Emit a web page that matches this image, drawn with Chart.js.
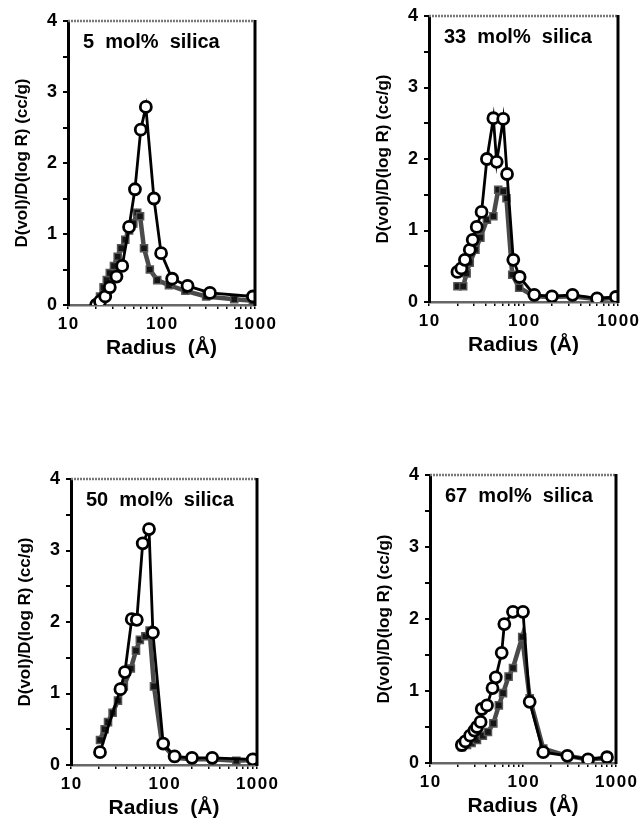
<!DOCTYPE html>
<html>
<head>
<meta charset="utf-8">
<script src="https://cdn.jsdelivr.net/npm/chart.js@4.4.1/dist/chart.umd.min.js"></script>
<style>
  html, body { margin: 0; padding: 0; background: #fff; }
  body { width: 643px; height: 828px; position: relative; overflow: hidden; }
  canvas { position: absolute; }
</style>
</head>
<body>
<script>
// ---------- data ----------
const panelTitles = ["5  mol%  silica", "33  mol%  silica", "50  mol%  silica", "67  mol%  silica"];
const xTickLabels = [10, 100, 1000];
const yTickLabels = [0, 1, 2, 3, 4];
const yAxisTitle = "D(vol)/D(log R) (cc/g)";
const xAxisTitle = "Radius  (Å)";

// Panel 1: 5 mol% silica
const p1CircleR = [20, 22, 25, 28, 33, 38, 45, 52, 60, 68, 83, 99, 130, 190, 330, 950];
const p1CircleV = [0.0, 0.05, 0.12, 0.25, 0.4, 0.55, 1.1, 1.63, 2.47, 2.79, 1.5, 0.73, 0.37, 0.27, 0.17, 0.12];
const p1SquareR = [20, 22, 24, 26, 28, 31, 34, 37, 41, 45, 50, 55, 59, 65, 75, 90, 120, 180, 300, 600, 950];
const p1SquareV = [0.02, 0.12, 0.25, 0.35, 0.45, 0.55, 0.68, 0.8, 0.92, 1.05, 1.15, 1.3, 1.25, 0.8, 0.5, 0.35, 0.28, 0.2, 0.12, 0.08, 0.06];

// Panel 2: 33 mol% silica
const p2CircleR = [20, 22, 24, 27, 29, 32, 36, 41, 48, 52, 61, 67, 78, 91, 130, 200, 330, 600, 950];
const p2CircleV = [0.42, 0.47, 0.59, 0.73, 0.87, 1.05, 1.26, 2.0, 2.57, 1.96, 2.56, 1.79, 0.59, 0.35, 0.1, 0.08, 0.1, 0.05, 0.07];
const p2SquareR = [20, 23, 25, 27, 31, 35, 41, 48, 54, 61, 66, 76, 90, 130, 200, 330, 600, 950];
const p2SquareV = [0.22, 0.22, 0.4, 0.55, 0.73, 0.9, 1.15, 1.2, 1.57, 1.55, 1.45, 0.38, 0.2, 0.08, 0.07, 0.08, 0.04, 0.06];

// Panel 3: 50 mol% silica
const p3CircleR = [20.5, 34, 38, 45, 51, 59, 69, 76, 98, 130, 200, 330, 900];
const p3CircleV = [0.18, 1.06, 1.3, 2.04, 2.03, 3.1, 3.3, 1.85, 0.3, 0.12, 0.1, 0.1, 0.08];
const p3SquareR = [20.5, 23, 25, 28, 32, 37, 44, 50, 55, 63, 70, 78, 95, 130, 200, 330, 600, 900];
const p3SquareV = [0.35, 0.5, 0.6, 0.73, 0.9, 1.1, 1.35, 1.6, 1.75, 1.8, 1.88, 1.1, 0.3, 0.1, 0.08, 0.08, 0.06, 0.07];

// Panel 4: 67 mol% silica
const p4CircleR = [22, 24, 27, 30, 32, 35, 36, 41, 47, 51, 59, 63, 78, 100, 118, 165, 300, 500, 800];
const p4CircleV = [0.25, 0.3, 0.38, 0.45, 0.5, 0.57, 0.75, 0.8, 1.04, 1.19, 1.53, 1.93, 2.1, 2.1, 0.85, 0.15, 0.1, 0.05, 0.08];
const p4SquareR = [22, 25, 28, 32, 37, 42, 48, 55, 61, 70, 78, 98, 118, 165, 300, 500, 800];
const p4SquareV = [0.22, 0.25, 0.28, 0.32, 0.38, 0.43, 0.55, 0.8, 0.97, 1.2, 1.32, 1.75, 0.9, 0.2, 0.1, 0.05, 0.07];

const panelCircleR = [p1CircleR, p2CircleR, p3CircleR, p4CircleR];
const panelCircleV = [p1CircleV, p2CircleV, p3CircleV, p4CircleV];
const panelSquareR = [p1SquareR, p2SquareR, p3SquareR, p4SquareR];
const panelSquareV = [p1SquareV, p2SquareV, p3SquareV, p4SquareV];

// ---------- layout (plot area in page pixels) ----------
const plotAreas = [
  { l: 68, t: 21, r: 255, b: 305 },
  { l: 429, t: 16, r: 618, b: 302 },
  { l: 71, t: 479, r: 257, b: 765 },
  { l: 430, t: 475, r: 616, b: 763 }
];
const Y_AXIS_W = 68, X_AXIS_H = 75, PAD_T = 20, PAD_R = 45;

const FONT = "'Liberation Sans', Arial, Helvetica, sans-serif";

const xMinor = [];
for (const d of [10, 100]) for (let k = 1; k <= 9; k++) xMinor.push(d * k);
xMinor.push(1000);
const yMinor = [];
for (let v = 0; v <= 4; v += 0.5) yMinor.push(v);

function pts(rs, vs) { return rs.map((r, i) => ({ x: r, y: vs[i] })); }

const framePlugin = {
  id: 'frame',
  afterDatasetsDraw(chart, args, opts) {
    const { ctx, chartArea: a } = chart;
    ctx.save();
    ctx.strokeStyle = '#777';
    ctx.lineWidth = 2.5;
    ctx.setLineDash([2, 1]);
    ctx.beginPath();
    ctx.moveTo(a.left, a.top); ctx.lineTo(a.right, a.top);
    ctx.stroke();
    ctx.setLineDash([]);
    ctx.strokeStyle = '#000';
    ctx.lineWidth = 3;
    ctx.beginPath();
    ctx.moveTo(a.right, a.top - 1); ctx.lineTo(a.right, a.bottom + 1);
    ctx.stroke();
    ctx.fillStyle = '#000';
    ctx.font = 'bold 20px ' + FONT;
    ctx.textBaseline = 'alphabetic';
    ctx.textAlign = 'left';
    ctx.fillText(opts.text, a.left + 15, a.top + 27);
    ctx.restore();
  }
};

plotAreas.forEach((pa, i) => {
  const c = document.createElement('canvas');
  const w = pa.r - pa.l + Y_AXIS_W + PAD_R;
  const h = pa.b - pa.t + PAD_T + X_AXIS_H;
  c.width = w; c.height = h;
  c.style.left = (pa.l - Y_AXIS_W) + 'px';
  c.style.top = (pa.t - PAD_T) + 'px';
  c.style.width = w + 'px'; c.style.height = h + 'px';
  document.body.appendChild(c);

  new Chart(c, {
    type: 'line',
    data: {
      datasets: [
        {
          label: 'circles',
          data: pts(panelCircleR[i], panelCircleV[i]),
          borderColor: '#000',
          borderWidth: 2.8,
          pointStyle: 'circle',
          pointRadius: 5.5,
          pointBorderWidth: 2.8,
          pointBackgroundColor: '#fff',
          pointBorderColor: '#000',
          tension: 0
        },
        {
          label: 'squares',
          data: pts(panelSquareR[i], panelSquareV[i]),
          borderColor: '#4a4a4a',
          borderWidth: 4.5,
          pointStyle: 'rect',
          pointRadius: 5,
          pointBorderWidth: 1.5,
          pointBackgroundColor: '#151515',
          pointBorderColor: '#555',
          tension: 0
        }
      ]
    },
    options: {
      responsive: false,
      animation: false,
      devicePixelRatio: 1,
      layout: { padding: { top: PAD_T, right: PAD_R, left: 0, bottom: 0 } },
      plugins: {
        legend: { display: false },
        tooltip: { enabled: false },
        frame: { text: panelTitles[i] }
      },
      scales: {
        x: {
          type: 'logarithmic',
          min: 10, max: 1000,
          afterBuildTicks(s) { s.ticks = xMinor.map(v => ({ value: v })); },
          afterFit(s) { s.height = X_AXIS_H; },
          ticks: {
            autoSkip: false,
            maxRotation: 0,
            padding: 5,
            color: '#000',
            font: { family: FONT, size: 17, weight: 'bold' },
            callback: (v) => xTickLabels.includes(v) ? String(v).split('').join('\u200A') : ''
          },
          grid: { drawOnChartArea: false, drawTicks: true, tickLength: 4, color: '#000', lineWidth: 1.5 },
          border: { display: true, color: '#666', width: 2.5, dash: [2, 1] },
          title: {
            display: true, text: xAxisTitle, color: '#000',
            font: { family: FONT, size: 21, weight: 'bold' },
            padding: { top: 4, bottom: 19 }
          }
        },
        y: {
          type: 'linear',
          min: 0, max: 4,
          afterBuildTicks(s) { s.ticks = yMinor.map(v => ({ value: v })); },
          afterFit(s) { s.width = Y_AXIS_W; },
          ticks: {
            autoSkip: false,
            padding: 6,
            color: '#000',
            font: { family: FONT, size: 18, weight: 'bold' },
            callback: (v) => yTickLabels.includes(v) ? String(v) : ''
          },
          grid: { drawOnChartArea: false, drawTicks: true, tickLength: 5, color: '#000', lineWidth: 2 },
          border: { display: true, color: '#000', width: 3 },
          title: {
            display: true, text: yAxisTitle, color: '#000',
            font: { family: FONT, size: 17, weight: 'bold' },
            padding: { top: 12, bottom: 0 }
          }
        }
      }
    },
    plugins: [framePlugin]
  });
});
</script>
</body>
</html>
